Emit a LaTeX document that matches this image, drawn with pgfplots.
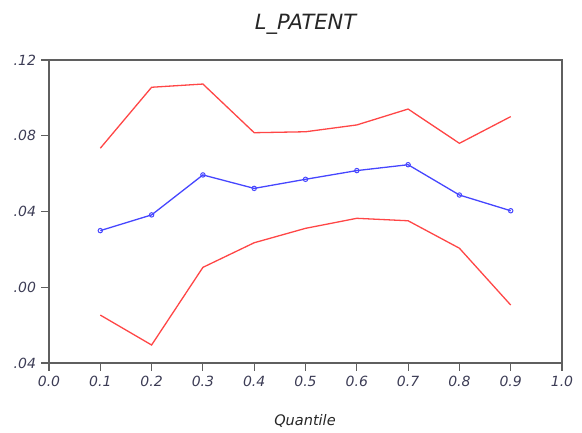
\documentclass[border=0pt]{standalone}
\usepackage{pgfplots}
\pgfplotsset{compat=1.18}
\usepackage{fontspec}
\setmainfont{DejaVu Sans}
\definecolor{redl}{RGB}{255,70,70}
\definecolor{bluel}{RGB}{70,70,255}
\definecolor{framec}{RGB}{95,95,95}
\definecolor{tickc}{RGB}{60,60,85}
\begin{document}
\begin{tikzpicture}[x=1bp,y=1bp]
\path[use as bounding box] (0,0) rectangle (582,433);
\begin{axis}[
  at={(49bp,70bp)}, anchor=south west,
  width=513bp, height=303bp, scale only axis,
  xmin=0, xmax=1, ymin=-0.04, ymax=0.12,
  axis line style={framec, line width=1.4bp},
  xtick={0,0.1,0.2,0.3,0.4,0.5,0.6,0.7,0.8,0.9,1},
  xticklabels={0.0,0.1,0.2,0.3,0.4,0.5,0.6,0.7,0.8,0.9,1.0},
  ytick={-0.04,0,0.04,0.08,0.12},
  yticklabels={.04,.00,.04,.08,.12},
  tick align=outside, major tick length=8bp,
  tick style={framec, line width=1.1bp},
  xtick pos=lower, ytick pos=left,
  ticklabel style={font=\fontsize{14bp}{16bp}\selectfont\itshape, text=tickc},
  xticklabel style={yshift=-2bp},
  yticklabel style={xshift=-1.5bp},
]
\addplot[redl, line width=1.3bp] coordinates {
 (0.1,0.0734) (0.2,0.1056) (0.3,0.1073) (0.4,0.0816) (0.5,0.0821)
 (0.6,0.0857) (0.7,0.0941) (0.8,0.0760) (0.9,0.0901)};
\addplot[bluel, line width=1.3bp, mark=o, mark size=2.2bp, mark options={line width=1bp}] coordinates {
 (0.1,0.0299) (0.2,0.0382) (0.3,0.0593) (0.4,0.0522) (0.5,0.0570)
 (0.6,0.0616) (0.7,0.0647) (0.8,0.0487) (0.9,0.0404)};
\addplot[redl, line width=1.3bp] coordinates {
 (0.1,-0.0147) (0.2,-0.0305) (0.3,0.0105) (0.4,0.0235) (0.5,0.0311)
 (0.6,0.0364) (0.7,0.0351) (0.8,0.0206) (0.9,-0.0094)};
\end{axis}
\node[anchor=base, font=\fontsize{21bp}{24bp}\selectfont\itshape, text=black!85] at (305.5,403) {L\_PATENT};
\node[anchor=base, font=\fontsize{14.5bp}{17bp}\selectfont\itshape, text=black!85] at (305,7.5) {Quantile};
\end{tikzpicture}
\end{document}
